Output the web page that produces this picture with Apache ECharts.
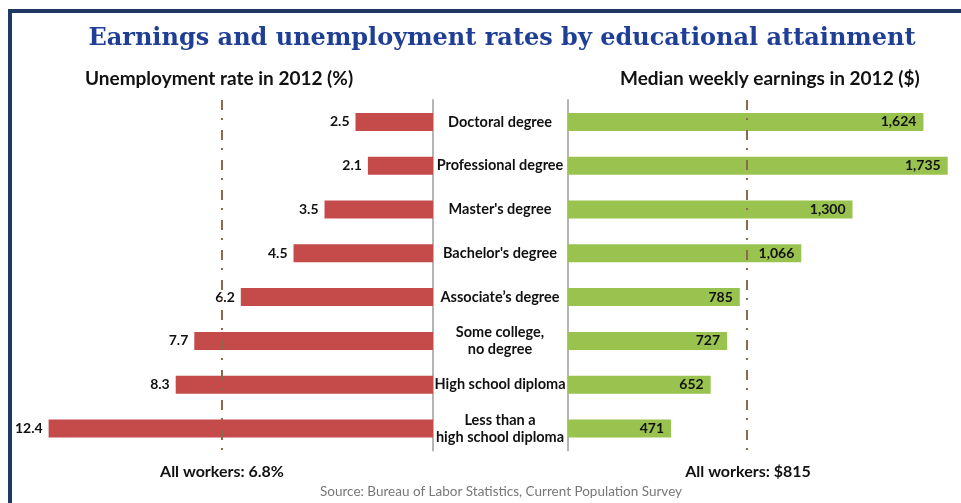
<!DOCTYPE html>
<html><head><meta charset="utf-8">
<script src="https://cdn.jsdelivr.net/npm/echarts@6/dist/echarts.min.js"></script>
<style>html,body{margin:0;padding:0;background:#fff;}#c{width:961px;height:503px;}</style>
</head><body><div id="c"></div>
<script>
const categories = ["Doctoral degree","Professional degree","Master's degree","Bachelor's degree","Associate’s degree","Some college,\nno degree","High school diploma","Less than a\nhigh school diploma"];
const unemployment = [2.5, 2.1, 3.5, 4.5, 6.2, 7.7, 8.3, 12.4];
const earnings = [1624, 1735, 1300, 1066, 785, 727, 652, 471];
const allWorkersRate = 6.8;
const allWorkersEarnings = 815;

const FONT = 'Lato';
const chart = echarts.init(document.getElementById('c'));
const dash = {color:'#8a6a4c', width:2, type:[10,8,2,10]};
chart.setOption({
  animation:false,
  title:[
    {text:'Earnings and unemployment rates by educational attainment', left:502, top:27, padding:0, textAlign:'center',
     textStyle:{fontFamily:'DejaVu Serif', fontWeight:'bold', fontSize:24, color:'#1f3f96'}},
    {text:'Unemployment rate in 2012 (%)', left:85, top:69, padding:0, textStyle:{fontFamily:FONT, fontWeight:'bold', fontSize:19, color:'#111'}},
    {text:'Median weekly earnings in 2012 ($)', left:620, top:69, padding:0, textStyle:{fontFamily:FONT, fontWeight:'bold', fontSize:19, color:'#111'}},
    {text:'All workers: ' + allWorkersRate + '%', left:222, top:464, padding:0, textAlign:'center', textStyle:{fontFamily:FONT, fontWeight:'bold', fontSize:16, color:'#111'}},
    {text:'All workers: $' + allWorkersEarnings, left:748, top:464, padding:0, textAlign:'center', textStyle:{fontFamily:FONT, fontWeight:'bold', fontSize:16, color:'#111'}},
    {text:'Source: Bureau of Labor Statistics, Current Population Survey', left:501, top:485, padding:0, textAlign:'center', textStyle:{fontFamily:FONT, fontWeight:'normal', fontSize:13.5, color:'#777'}}
  ],
  graphic:[
    {type:'rect', shape:{x:8, y:9, width:960, height:4}, style:{fill:'#1e3a62'}},
    {type:'rect', shape:{x:8, y:9, width:4, height:500}, style:{fill:'#1e3a62'}}
  ],
  grid:[
    {left:30, width:403, top:100, height:350.4, containLabel:false},
    {left:568, width:383, top:100, height:350.4, containLabel:false}
  ],
  xAxis:[
    {type:'value', gridIndex:0, min:0, max:13, inverse:true, show:false},
    {type:'value', gridIndex:1, min:0, max:1750, show:false}
  ],
  yAxis:[
    {type:'category', gridIndex:0, data:categories, inverse:true, position:'right',
     axisLine:{show:true, lineStyle:{color:'#b5b5b5', width:2}}, axisTick:{show:false}, axisLabel:{show:false}, splitLine:{show:false}},
    {type:'category', gridIndex:1, data:categories, inverse:true, position:'left',
     axisLine:{show:true, lineStyle:{color:'#b5b5b5', width:2}}, axisTick:{show:false}, splitLine:{show:false},
     axisLabel:{show:true, align:'center', margin:68, fontFamily:FONT, fontWeight:'bold', fontSize:14.5, color:'#111', lineHeight:17}}
  ],
  series:[
    {type:'bar', xAxisIndex:0, yAxisIndex:0, data:unemployment, barWidth:18,
     itemStyle:{color:'#c54b4b'},
     label:{show:true, position:'left', distance:6, fontFamily:FONT, fontWeight:'bold', fontSize:14, color:'#111'},
     markLine:{silent:true, symbol:'none', label:{show:false}, lineStyle:dash, data:[{xAxis:allWorkersRate}]}},
    {type:'bar', xAxisIndex:1, yAxisIndex:1, data:earnings, barWidth:18,
     itemStyle:{color:'#9ac24f'},
     label:{show:true, position:'insideRight', distance:7, fontFamily:FONT, fontWeight:'bold', fontSize:14, color:'#111',
       formatter:p=>p.value.toLocaleString('en-US')},
     markLine:{silent:true, symbol:'none', label:{show:false}, lineStyle:dash, data:[{xAxis:allWorkersEarnings}]}}
  ]
});
</script></body></html>
